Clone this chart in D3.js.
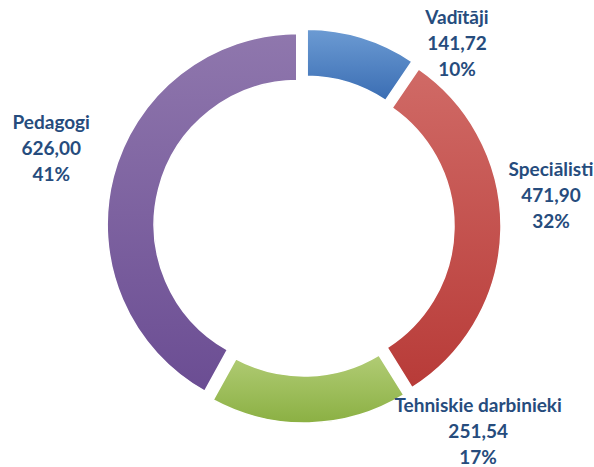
<!DOCTYPE html>
<html>
<head>
<meta charset="utf-8">
<script src="https://cdn.jsdelivr.net/npm/d3@7"></script>
<style>
  body { margin: 0; background: #fff; }
  svg text { font-family: Lato, "Open Sans", sans-serif; font-weight: bold; }
</style>
</head>
<body>
<div id="chart"></div>
<script>
// chart data
var categories = ["Vadītāji", "Speciālisti", "Tehniskie darbinieki", "Pedagogi"];
var values = [141.72, 471.90, 251.54, 626.00];
var valueLabels = ["141,72", "471,90", "251,54", "626,00"];
var percentLabels = ["10%", "32%", "17%", "41%"];

// look
var colorsTop = ["#6c9bd3", "#d06a66", "#b1cc75", "#8f77ad"];
var colorsBottom = ["#3a6db3", "#b83b38", "#8bb043", "#6b4d93"];
// label nudges from the outer edge point of each slice
var labelNudge = [[95, 5], [50, -35], [169, 8], [-62, -29]];

var width = 594, height = 467;
var cx = 304, cy = 226;
var outerR = 191, innerR = 144, explode = 6;

var svg = d3.select("#chart").append("svg")
  .attr("width", width)
  .attr("height", height);

var defs = svg.append("defs");
categories.forEach(function(c, i) {
  var g = defs.append("linearGradient")
    .attr("id", "grad" + i)
    .attr("x1", 0).attr("y1", 0).attr("x2", 0).attr("y2", 1);
  g.append("stop").attr("offset", "0%").attr("stop-color", colorsTop[i]);
  g.append("stop").attr("offset", "100%").attr("stop-color", colorsBottom[i]);
});

var pie = d3.pie().sort(null).value(function(d) { return d; });
var arcs = pie(values);

var arc = d3.arc()
  .innerRadius(innerR)
  .outerRadius(outerR)
  .padAngle(0.012);

var chartG = svg.append("g")
  .attr("transform", "translate(" + cx + "," + cy + ")");

function midAngle(d) { return (d.startAngle + d.endAngle) / 2; }

chartG.selectAll("path")
  .data(arcs)
  .join("path")
    .attr("d", arc)
    .attr("fill", function(d, i) { return "url(#grad" + i + ")"; })
    .attr("stroke", "#fff")
    .attr("stroke-width", 1.5)
    .attr("transform", function(d) {
      var a = midAngle(d);
      return "translate(" + (explode * Math.sin(a)) + "," + (-explode * Math.cos(a)) + ")";
    });

var labels = chartG.selectAll("text.lbl")
  .data(arcs)
  .join("text")
    .attr("class", "lbl")
    .attr("text-anchor", "middle")
    .attr("fill", "#264c7d")
    .attr("font-size", 19)
    .attr("transform", function(d, i) {
      var a = midAngle(d);
      var r = outerR + explode;
      var x = r * Math.sin(a) + labelNudge[i][0];
      var y = -r * Math.cos(a) + labelNudge[i][1];
      return "translate(" + x + "," + y + ")";
    });

labels.each(function(d, i) {
  var t = d3.select(this);
  var lines = [categories[i], valueLabels[i], percentLabels[i]];
  lines.forEach(function(s, k) {
    t.append("tspan")
      .attr("x", 0)
      .attr("y", (k - 1) * 26 + 7)
      .text(s);
  });
});
</script>
</body>
</html>
